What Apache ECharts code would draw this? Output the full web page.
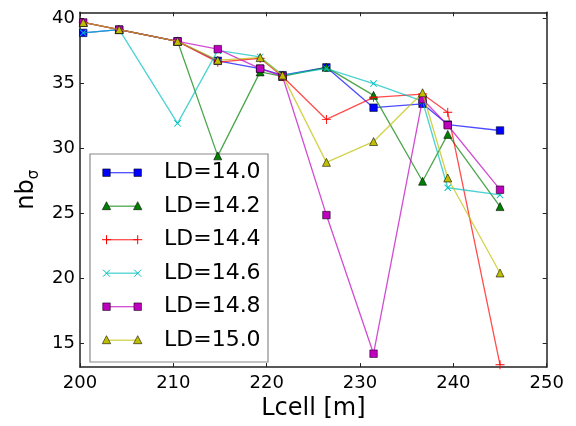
<!DOCTYPE html>
<html>
<head>
<meta charset="utf-8">
<script src="https://cdn.jsdelivr.net/npm/echarts@6/dist/echarts.min.js"></script>
<style>
html,body{margin:0;padding:0;background:#fff;}
#c{width:576px;height:426px;}
</style>
</head>
<body>
<div id="c"></div>
<script>
// ---- data ----
const lcell = [200.35, 204.2, 210.45, 214.76, 219.3, 221.7, 226.4, 231.45, 236.7, 239.4, 245.0];
const ld140 = [38.85, 39.1, 38.2, 36.7, 36.1, 35.6, 36.2, 33.1, 33.4, 31.8, 31.35];
const ld142 = [39.65, 39.1, 38.2, 29.4, 35.85, 35.5, 36.2, 34.05, 27.45, 31.05, 25.5];
const ld144 = [39.65, 39.1, 38.2, 36.6, 36.9, 35.5, 32.2, 33.9, 34.15, 32.75, 13.35];
const ld146 = [38.85, 39.1, 31.9, 37.5, 37.0, 35.6, 36.1, 34.95, 33.6, 26.95, 26.4];
const ld148 = [39.65, 39.1, 38.2, 37.6, 36.1, 35.5, 24.85, 14.2, 33.75, 31.75, 26.8];
const ld150 = [39.65, 39.1, 38.2, 36.75, 36.95, 35.6, 28.9, 30.5, 34.25, 27.7, 20.4];
const seriesNames = ['LD=14.0', 'LD=14.2', 'LD=14.4', 'LD=14.6', 'LD=14.8', 'LD=15.0'];
const seriesValues = [ld140, ld142, ld144, ld146, ld148, ld150];
const yTicks = [15, 20, 25, 30, 35, 40];
const xTicks = [200, 210, 220, 230, 240, 250];

// ---- styles ----
const colors = ['#0000ff', '#008000', '#ff0000', '#00bfbf', '#bf00bf', '#bfbf00'];
const markers = ['square', 'triangle', 'plus', 'cross', 'square', 'triangle'];
const PLUS = 'path://M0,4.5H10V5.5H0Z M4.5,0H5.5V10H4.5Z';

function symbolFor(m) {
  if (m === 'square') return {symbol: 'rect', symbolSize: 7.5, symbolRotate: 0};
  if (m === 'triangle') return {symbol: 'triangle', symbolSize: 8, symbolRotate: 0};
  if (m === 'plus') return {symbol: PLUS, symbolSize: 9, symbolRotate: 0};
  return {symbol: PLUS, symbolSize: 9, symbolRotate: 45};
}

const series = seriesNames.map((name, i) => {
  const s = symbolFor(markers[i]);
  const filled = markers[i] === 'square' || markers[i] === 'triangle';
  return {
    name: name,
    type: 'line',
    data: lcell.map((x, j) => [x, seriesValues[i][j]]),
    symbol: s.symbol,
    symbolSize: s.symbolSize,
    symbolRotate: s.symbolRotate,
    showAllSymbol: true,
    lineStyle: {color: colors[i], width: 1.3, opacity: 0.7},
    itemStyle: {
      color: colors[i],
      borderColor: filled ? 'rgba(0,0,0,0.7)' : colors[i],
      borderWidth: filled ? 0.8 : 0,
      opacity: 1
    },
    emphasis: {disabled: true},
    animation: false,
    z: 2 + i
  };
});

// ---- legend (graphic) ----
const legX = 90, legY = 154, legW = 178, legH = 208;
const entryY0 = 172.7, entryStep = 33.5;
const mx1 = 106.5, mx2 = 137.7;
function legendMarker(m, color, cx, cy) {
  if (m === 'square') {
    return {type: 'rect', shape: {x: cx - 3.75, y: cy - 3.75, width: 7.5, height: 7.5},
            style: {fill: color, stroke: 'rgba(0,0,0,0.7)', lineWidth: 0.8}};
  }
  if (m === 'triangle') {
    return {type: 'polygon', shape: {points: [[cx, cy - 4.5], [cx + 4.2, cy + 3.5], [cx - 4.2, cy + 3.5]]},
            style: {fill: color, stroke: 'rgba(0,0,0,0.7)', lineWidth: 0.8}};
  }
  if (m === 'plus') {
    return {type: 'group', children: [
      {type: 'line', shape: {x1: cx - 4.5, y1: cy, x2: cx + 4.5, y2: cy}, style: {stroke: color, lineWidth: 1}},
      {type: 'line', shape: {x1: cx, y1: cy - 4.5, x2: cx, y2: cy + 4.5}, style: {stroke: color, lineWidth: 1}}
    ]};
  }
  return {type: 'group', children: [
    {type: 'line', shape: {x1: cx - 3.5, y1: cy - 3.5, x2: cx + 3.5, y2: cy + 3.5}, style: {stroke: color, lineWidth: 1}},
    {type: 'line', shape: {x1: cx - 3.5, y1: cy + 3.5, x2: cx + 3.5, y2: cy - 3.5}, style: {stroke: color, lineWidth: 1}}
  ]};
}
const legendChildren = [
  {type: 'rect', shape: {x: legX, y: legY, width: legW, height: legH},
   style: {fill: '#fff', stroke: '#8a8a8a', lineWidth: 1.2}}
];
seriesNames.forEach((name, i) => {
  const cy = entryY0 + i * entryStep;
  legendChildren.push({type: 'line', shape: {x1: mx1, y1: cy, x2: mx2, y2: cy},
    style: {stroke: colors[i], lineWidth: 1.3, opacity: 0.7}});
  legendChildren.push(legendMarker(markers[i], colors[i], mx1, cy));
  legendChildren.push(legendMarker(markers[i], colors[i], mx2, cy));
  legendChildren.push({type: 'text', x: 164, y: cy,
    style: {text: name, fill: '#000', font: '22px "DejaVu Sans"', textVerticalAlign: 'middle', textAlign: 'left'}});
});

const axisLineStyle = {color: '#222', width: 1.5};
const tickStyle = {show: true, inside: true, length: 4, lineStyle: {color: '#222', width: 1}};
const labelFont = {fontFamily: 'DejaVu Sans', fontSize: 18, color: '#000'};

const option = {
  backgroundColor: '#fff',
  animation: false,
  grid: {left: 80, right: 29.3, top: 12.3, bottom: 52.7, containLabel: false},
  xAxis: [
    {type: 'value', min: 200, max: 250, interval: 10, position: 'bottom',
     axisLine: {show: true, onZero: false, lineStyle: axisLineStyle},
     axisTick: tickStyle, splitLine: {show: false},
     axisLabel: Object.assign({margin: 7, customValues: xTicks}, labelFont),
     name: 'Lcell [m]', nameLocation: 'middle', nameGap: 27,
     nameTextStyle: {fontFamily: 'DejaVu Sans', fontSize: 24, color: '#000'}},
    {type: 'value', min: 200, max: 250, interval: 10, position: 'top',
     axisLine: {show: true, onZero: false, lineStyle: axisLineStyle},
     axisTick: tickStyle, splitLine: {show: false}, axisLabel: {show: false}}
  ],
  yAxis: [
    {type: 'value', min: 13.17, max: 40.43, position: 'left',
     axisLine: {show: true, onZero: false, lineStyle: axisLineStyle},
     axisTick: Object.assign({customValues: yTicks}, tickStyle), splitLine: {show: false},
     axisLabel: Object.assign({margin: 5, customValues: yTicks}, labelFont),
     name: '{n|nb}{s|σ}', nameLocation: 'middle', nameGap: 33, nameRotate: 90,
     nameTextStyle: {
       fontFamily: 'DejaVu Sans', color: '#000',
       rich: {
         n: {fontFamily: 'DejaVu Sans', fontSize: 24, color: '#000', lineHeight: 26, verticalAlign: 'top'},
         s: {fontFamily: 'DejaVu Sans', fontSize: 15, color: '#000', lineHeight: 26, verticalAlign: 'bottom'}
       }
     }},
    {type: 'value', min: 13.17, max: 40.43, position: 'right',
     axisLine: {show: true, onZero: false, lineStyle: axisLineStyle},
     axisTick: Object.assign({customValues: yTicks}, tickStyle), splitLine: {show: false},
     axisLabel: {show: false}}
  ],
  series: series,
  graphic: [
    {type: 'group', z: 100, children: legendChildren},
    {type: 'rect', z: 200, shape: {x: 0, y: 419, width: 576, height: 7}, style: {fill: '#fff'}}
  ]
};

const chart = echarts.init(document.getElementById('c'), null, {renderer: 'canvas'});
chart.setOption(option);
</script>
</body>
</html>
